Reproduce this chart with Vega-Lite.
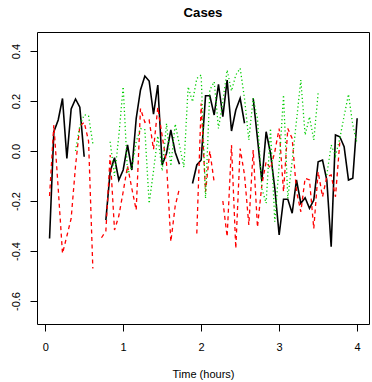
{
  "$schema": "https://vega.github.io/schema/vega-lite/v6.json",
  "width": 332,
  "height": 292,
  "autosize": "none",
  "padding": {"left": 37, "top": 32, "right": 3, "bottom": 58},
  "background": "white",
  "title": {"text": "Cases", "font": "Liberation Sans", "fontSize": 13.2, "fontWeight": "bold", "anchor": "middle", "baseline": "alphabetic", "offset": 2, "color": "black"},
  "config": {
    "locale": {"number": {"decimal": ".", "thousands": ",", "grouping": [3], "currency": ["$", ""], "minus": "-"}},
    "view": {"stroke": "black", "strokeWidth": 1},
    "axis": {"grid": false, "domain": false, "tickColor": "black", "tickSize": 7, "tickWidth": 1, "labelFont": "Liberation Sans", "labelFontSize": 11, "labelColor": "black", "titleFont": "Liberation Sans", "titleFontSize": 11, "titleColor": "black", "titleFontWeight": "normal", "labelFlush": false, "labelOverlap": false}
  },
  "data": {"values": [
    {"t": 0.056, "case1": -0.35, "case2": -0.18, "case3": null},
    {"t": 0.111, "case1": 0.077, "case2": 0.104, "case3": null},
    {"t": 0.167, "case1": 0.124, "case2": -0.15, "case3": null},
    {"t": 0.222, "case1": 0.21, "case2": -0.41, "case3": null},
    {"t": 0.278, "case1": -0.03, "case2": -0.34, "case3": null},
    {"t": 0.333, "case1": 0.168, "case2": -0.27, "case3": null},
    {"t": 0.389, "case1": 0.208, "case2": -0.06, "case3": 0.0},
    {"t": 0.444, "case1": 0.175, "case2": 0.1, "case3": 0.1},
    {"t": 0.5, "case1": -0.023, "case2": 0.115, "case3": 0.145},
    {"t": 0.556, "case1": null, "case2": 0.04, "case3": 0.14},
    {"t": 0.611, "case1": null, "case2": -0.47, "case3": 0.03},
    {"t": 0.667, "case1": null, "case2": null, "case3": null},
    {"t": 0.722, "case1": null, "case2": -0.347, "case3": null},
    {"t": 0.778, "case1": -0.276, "case2": -0.32, "case3": null},
    {"t": 0.833, "case1": -0.083, "case2": -0.016, "case3": 0.037},
    {"t": 0.889, "case1": -0.027, "case2": -0.316, "case3": -0.1},
    {"t": 0.944, "case1": -0.116, "case2": -0.26, "case3": 0.06},
    {"t": 1.0, "case1": -0.076, "case2": -0.163, "case3": 0.257},
    {"t": 1.056, "case1": 0.024, "case2": -0.06, "case3": -0.09},
    {"t": 1.111, "case1": -0.076, "case2": -0.15, "case3": -0.065},
    {"t": 1.167, "case1": 0.13, "case2": -0.236, "case3": 0.037},
    {"t": 1.222, "case1": 0.244, "case2": 0.17, "case3": 0.09},
    {"t": 1.278, "case1": 0.3, "case2": 0.115, "case3": 0.085},
    {"t": 1.333, "case1": 0.28, "case2": 0.124, "case3": -0.21},
    {"t": 1.389, "case1": 0.147, "case2": 0.007, "case3": -0.08},
    {"t": 1.444, "case1": 0.264, "case2": 0.175, "case3": 0.06},
    {"t": 1.5, "case1": -0.056, "case2": 0.06, "case3": -0.08},
    {"t": 1.556, "case1": -0.009, "case2": -0.05, "case3": 0.11},
    {"t": 1.611, "case1": 0.084, "case2": -0.363, "case3": -0.06},
    {"t": 1.667, "case1": -0.005, "case2": -0.22, "case3": 0.108},
    {"t": 1.722, "case1": -0.053, "case2": -0.149, "case3": 0.024},
    {"t": 1.778, "case1": null, "case2": null, "case3": -0.065},
    {"t": 1.833, "case1": null, "case2": null, "case3": 0.257},
    {"t": 1.889, "case1": -0.13, "case2": null, "case3": 0.197},
    {"t": 1.944, "case1": -0.056, "case2": -0.33, "case3": 0.29},
    {"t": 2.0, "case1": -0.036, "case2": 0.19, "case3": 0.304},
    {"t": 2.056, "case1": 0.221, "case2": -0.163, "case3": -0.19},
    {"t": 2.111, "case1": 0.221, "case2": 0.0, "case3": 0.244},
    {"t": 2.167, "case1": 0.144, "case2": -0.125, "case3": 0.277},
    {"t": 2.222, "case1": 0.267, "case2": null, "case3": 0.09},
    {"t": 2.278, "case1": 0.137, "case2": -0.2, "case3": 0.2},
    {"t": 2.333, "case1": 0.284, "case2": -0.343, "case3": 0.324},
    {"t": 2.389, "case1": 0.08, "case2": 0.024, "case3": 0.24},
    {"t": 2.444, "case1": 0.164, "case2": -0.39, "case3": 0.304},
    {"t": 2.5, "case1": 0.211, "case2": 0.01, "case3": 0.331},
    {"t": 2.556, "case1": 0.111, "case2": -0.096, "case3": 0.21},
    {"t": 2.611, "case1": null, "case2": -0.296, "case3": 0.044},
    {"t": 2.667, "case1": 0.211, "case2": 0.004, "case3": 0.211},
    {"t": 2.722, "case1": 0.05, "case2": -0.305, "case3": 0.13},
    {"t": 2.778, "case1": -0.12, "case2": -0.136, "case3": -0.15},
    {"t": 2.833, "case1": 0.077, "case2": -0.043, "case3": -0.209},
    {"t": 2.889, "case1": -0.009, "case2": -0.07, "case3": 0.09},
    {"t": 2.944, "case1": -0.149, "case2": -0.003, "case3": -0.283},
    {"t": 3.0, "case1": -0.336, "case2": 0.09, "case3": -0.056},
    {"t": 3.056, "case1": -0.193, "case2": -0.163, "case3": 0.224},
    {"t": 3.111, "case1": -0.193, "case2": 0.09, "case3": -0.19},
    {"t": 3.167, "case1": -0.249, "case2": 0.05, "case3": -0.04},
    {"t": 3.222, "case1": -0.116, "case2": -0.16, "case3": 0.12},
    {"t": 3.278, "case1": -0.209, "case2": -0.243, "case3": 0.284},
    {"t": 3.333, "case1": -0.187, "case2": -0.109, "case3": 0.064},
    {"t": 3.389, "case1": -0.229, "case2": -0.116, "case3": 0.137},
    {"t": 3.444, "case1": -0.196, "case2": -0.31, "case3": 0.044},
    {"t": 3.5, "case1": -0.043, "case2": -0.083, "case3": 0.231},
    {"t": 3.556, "case1": -0.036, "case2": -0.183, "case3": null},
    {"t": 3.611, "case1": -0.116, "case2": -0.103, "case3": -0.096},
    {"t": 3.667, "case1": -0.383, "case2": -0.096, "case3": 0.024},
    {"t": 3.722, "case1": 0.064, "case2": -0.183, "case3": -0.02},
    {"t": 3.778, "case1": 0.057, "case2": 0.037, "case3": 0.05},
    {"t": 3.833, "case1": 0.017, "case2": null, "case3": 0.14},
    {"t": 3.889, "case1": -0.116, "case2": null, "case3": 0.227},
    {"t": 3.944, "case1": -0.109, "case2": null, "case3": 0.104},
    {"t": 4.0, "case1": 0.131, "case2": null, "case3": 0.03}
  ]},
  "encoding": {
    "x": {"field": "t", "type": "quantitative",
      "scale": {"domain": [-0.105, 4.152], "nice": false, "zero": false},
      "axis": {"values": [0, 1, 2, 3, 4], "format": "d", "title": "Time (hours)", "labelPadding": 19, "labelBaseline": "alphabetic", "titleY": 53, "titleBaseline": "alphabetic"}}
  },
  "layer": [
    {"mark": {"type": "line", "color": "black", "strokeWidth": 1.6, "invalid": "break-paths-show-domains"},
     "encoding": {"y": {"field": "case1", "type": "quantitative",
       "scale": {"domain": [-0.692, 0.476], "nice": false, "zero": false},
       "axis": {"values": [-0.6, -0.4, -0.2, 0, 0.2, 0.4], "format": ".1f", "title": null, "labelAngle": -90, "labelAlign": "center", "labelBaseline": "alphabetic", "labelPadding": 11}}}},
    {"mark": {"type": "line", "color": "#FF0000", "strokeWidth": 1.3, "strokeDash": [4, 3.5], "invalid": "break-paths-show-domains"},
     "encoding": {"y": {"field": "case2", "type": "quantitative"}}},
    {"mark": {"type": "line", "color": "#00CD00", "strokeWidth": 1.3, "strokeDash": [1.2, 2.6], "invalid": "break-paths-show-domains"},
     "encoding": {"y": {"field": "case3", "type": "quantitative"}}}
  ]
}
